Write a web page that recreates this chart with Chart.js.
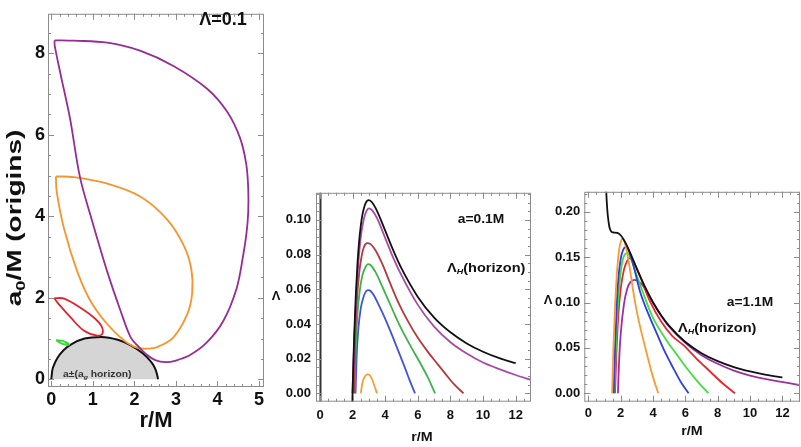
<!DOCTYPE html>
<html>
<head>
<meta charset="utf-8">
<script src="https://cdn.jsdelivr.net/npm/chart.js@4.4.1/dist/chart.umd.min.js"></script>
<style>
  body { margin: 0; background: #fff; width: 801px; height: 447px; position: relative; overflow: hidden; }
  canvas { position: absolute; }
</style>
</head>
<body>
<canvas id="c1" width="275" height="447" style="left:0;top:0"></canvas>
<canvas id="c2" width="275" height="267" style="left:265px;top:180px"></canvas>
<canvas id="c3" width="261" height="267" style="left:540px;top:180px"></canvas>
<script>
// ---- Panel 1: loops of a0/M vs r/M at Lambda = 0.1
const purpleLoopR = [0.08, 0.55, 1.35, 2.15, 2.94, 3.75, 4.23, 4.54, 4.69, 4.74, 4.74, 4.7, 4.62, 4.46, 4.14, 3.75, 3.35, 3.0, 2.75, 2.5, 2.3, 2.1, 1.91, 1.67, 1.35, 0.95, 0.69, 0.45, 0.22, 0.08, 0.08];
const purpleLoopA = [8.32, 8.31, 8.26, 8.06, 7.69, 7.13, 6.57, 5.93, 5.3, 4.7, 4.1, 3.6, 3.05, 2.23, 1.43, 0.91, 0.6, 0.46, 0.42, 0.47, 0.6, 0.8, 1.03, 1.67, 2.63, 4.0, 4.96, 6.4, 7.5, 8.2, 8.32];
const orangeLoopR = [0.11, 0.55, 1.35, 2.15, 2.79, 3.19, 3.37, 3.39, 3.27, 2.94, 2.55, 2.3, 2.15, 1.99, 1.75, 1.35, 0.95, 0.63, 0.31, 0.13, 0.11];
const orangeLoopA = [4.98, 4.96, 4.8, 4.48, 3.92, 3.28, 2.7, 2.1, 1.59, 1.03, 0.79, 0.75, 0.76, 0.8, 0.95, 1.35, 1.91, 2.63, 3.68, 4.6, 4.98];
const redLoopR = [0.07, 0.31, 0.71, 1.03, 1.21, 1.23, 1.11, 0.79, 0.47, 0.19, 0.07];
const redLoopA = [1.99, 1.98, 1.75, 1.51, 1.3, 1.12, 1.07, 1.19, 1.51, 1.83, 1.99];
const greenLoopR = [0.11, 0.27, 0.43, 0.29, 0.11];
const greenLoopA = [0.96, 0.94, 0.85, 0.86, 0.96];
const horizonR = [0, 0.02, 0.06, 0.15, 0.3, 0.5, 0.8, 1.2, 1.6, 1.9, 2.2, 2.4, 2.5, 2.55, 2.57];
const horizonA = [0, 0.2, 0.34, 0.53, 0.72, 0.87, 1.0, 1.04, 0.97, 0.84, 0.64, 0.43, 0.26, 0.1, 0];
const p1TicksX = [0, 1, 2, 3, 4, 5];
const p1TicksY = [0, 2, 4, 6, 8];

// ---- Panel 2: a = 0.1M
const p2BlackR = [1.98, 2.05, 2.1, 2.2, 2.3, 2.4, 2.5, 2.6, 2.8, 3.0, 3.2, 3.5, 4, 4.5, 5, 6, 7, 8, 9, 10, 11, 12];
const p2BlackL = [-0.006, 0.019, 0.034, 0.0575, 0.075, 0.0876, 0.0966, 0.1029, 0.1097, 0.1114, 0.110, 0.1051, 0.0938, 0.0823, 0.072, 0.0556, 0.0437, 0.0352, 0.0288, 0.024, 0.0203, 0.0174];
const p2PurpleR = [1.99, 2.05, 2.15, 2.3, 2.5, 2.7, 2.85, 3.0, 3.2, 3.5, 4, 4.5, 5, 6, 7, 8, 9, 10, 11, 12, 12.95];
const p2PurpleL = [0, 0.017, 0.041, 0.068, 0.09, 0.101, 0.105, 0.1066, 0.1055, 0.101, 0.0895, 0.078, 0.068, 0.051, 0.0385, 0.0295, 0.023, 0.0178, 0.014, 0.0106, 0.0077];
const p2RedR = [2.08, 2.15, 2.25, 2.4, 2.55, 2.7, 2.9, 3.1, 3.4, 3.8, 4.3, 4.8, 5.4, 6.0, 6.65, 7.2, 7.67, 8.2, 8.8];
const p2RedL = [0, 0.03, 0.052, 0.069, 0.079, 0.0845, 0.0866, 0.086, 0.0825, 0.075, 0.0635, 0.0525, 0.0415, 0.032, 0.0235, 0.017, 0.0115, 0.0055, 0];
const p2GreenR = [2.12, 2.2, 2.3, 2.45, 2.6, 2.8, 2.95, 3.1, 3.4, 3.8, 4.2, 4.6, 5.0, 5.6, 6.2, 6.6, 7.06];
const p2GreenL = [0, 0.027, 0.046, 0.06, 0.068, 0.073, 0.0745, 0.074, 0.07, 0.062, 0.0535, 0.045, 0.037, 0.0265, 0.0165, 0.0095, 0];
const p2BlueR = [2.18, 2.25, 2.35, 2.5, 2.65, 2.8, 2.95, 3.1, 3.3, 3.6, 4.0, 4.4, 4.8, 5.2, 5.5, 5.83];
const p2BlueL = [0, 0.022, 0.037, 0.049, 0.055, 0.0585, 0.0595, 0.059, 0.0565, 0.051, 0.043, 0.034, 0.0245, 0.015, 0.0075, 0];
const p2OrangeR = [2.5, 2.6, 2.75, 2.9, 3.05, 3.2, 3.35, 3.5];
const p2OrangeL = [0, 0.006, 0.0098, 0.011, 0.0105, 0.008, 0.004, 0];
const p2TicksX = [0, 2, 4, 6, 8, 10, 12];
const p2TicksY = [0, 0.02, 0.04, 0.06, 0.08, 0.10];

// ---- Panel 3: a = 1.1M
const p3BlackR = [1.07, 1.1, 1.15, 1.2, 1.3, 1.4, 1.5, 1.6, 1.8, 2.0, 2.2, 2.5, 2.8, 3.0, 3.5, 4.0, 4.5, 5, 6, 7, 8, 9, 10, 11, 12];
const p3BlackL = [0.239, 0.225, 0.208, 0.1965, 0.1836, 0.1787, 0.1773, 0.1772, 0.1768, 0.1742, 0.169, 0.1584, 0.1459, 0.1374, 0.1175, 0.1003, 0.086, 0.0742, 0.0565, 0.0442, 0.0354, 0.0289, 0.0241, 0.0203, 0.0174];
const p3OrangeR = [1.47, 1.55, 1.65, 1.75, 1.85, 1.95, 2.05, 2.13, 2.3, 2.5, 2.78, 3.0, 3.3, 3.61, 3.9, 4.1, 4.33];
const p3OrangeL = [0, 0.05, 0.095, 0.128, 0.15, 0.163, 0.169, 0.1705, 0.163, 0.145, 0.112, 0.09, 0.066, 0.044, 0.024, 0.012, 0];
const p3BlueR = [1.57, 1.65, 1.75, 1.85, 2.0, 2.15, 2.33, 2.5, 2.8, 3.2, 3.7, 4.23, 4.7, 5.26, 5.7, 6.2];
const p3BlueL = [0, 0.05, 0.095, 0.125, 0.148, 0.158, 0.161, 0.157, 0.14, 0.112, 0.088, 0.066, 0.047, 0.0275, 0.013, 0];
const p3GreenR = [1.6, 1.7, 1.8, 1.95, 2.1, 2.25, 2.41, 2.6, 2.9, 3.4, 4.0, 4.85, 5.5, 6.09, 6.8, 7.42];
const p3GreenL = [0, 0.05, 0.09, 0.125, 0.145, 0.153, 0.1545, 0.15, 0.135, 0.11, 0.083, 0.058, 0.042, 0.0275, 0.012, 0];
const p3RedR = [1.65, 1.75, 1.85, 2.0, 2.2, 2.4, 2.54, 2.75, 3.1, 3.82, 4.5, 5.2, 5.88, 6.7, 7.53, 8.3, 9.07];
const p3RedL = [0, 0.05, 0.085, 0.115, 0.136, 0.146, 0.149, 0.146, 0.133, 0.101, 0.079, 0.063, 0.053, 0.038, 0.024, 0.011, 0];
const p3PurpleR = [1.83, 1.9, 2.0, 2.2, 2.4, 2.6, 2.83, 3.0, 3.2, 3.5, 4, 4.5, 5, 6, 7, 8, 9, 10, 11, 12, 13.1];
const p3PurpleL = [0, 0.035, 0.065, 0.098, 0.115, 0.1225, 0.125, 0.1245, 0.122, 0.1155, 0.0995, 0.0855, 0.0735, 0.0555, 0.042, 0.0325, 0.025, 0.0195, 0.0155, 0.0125, 0.0088];
const p3TicksX = [0, 2, 4, 6, 8, 10, 12];
const p3TicksY = [0, 0.05, 0.10, 0.15, 0.20];

const FONT = '"Liberation Sans", Arial, sans-serif';
Chart.defaults.font.family = FONT;
Chart.defaults.color = '#111';

function pts(xs, ys) {
    return xs.map((x, i) => ({ x: x, y: ys[i] }));
}

function line(xs, ys, color, extra) {
    return Object.assign({
        data: pts(xs, ys),
        showLine: true,
        borderColor: color,
        borderWidth: 1.8,
        pointRadius: 0,
        fill: false,
        cubicInterpolationMode: 'monotone'
    }, extra || {});
}

// loops are closed curves, so use plain bezier smoothing
const loop = { cubicInterpolationMode: 'default', tension: 0.35 };

// text with sub/italic parts
function drawRich(ctx, parts, x, y, size, align, sx, rot) {
    ctx.save();
    ctx.translate(x, y);
    if (rot) ctx.rotate(rot);
    ctx.scale(sx || 1, 1);
    ctx.textBaseline = 'middle';
    ctx.textAlign = 'left';
    const fontOf = p => `${p.it ? 'italic ' : ''}bold ${p.sub ? Math.round(size * 0.65) : size}px ${FONT}`;
    let total = 0;
    parts.forEach(p => { ctx.font = fontOf(p); total += ctx.measureText(p.t).width; });
    let cx = align === 'center' ? -total / 2 : 0;
    parts.forEach(p => {
        ctx.font = fontOf(p);
        ctx.fillStyle = p.color || '#111';
        ctx.fillText(p.t, cx, p.sub ? size * 0.3 : 0);
        cx += ctx.measureText(p.t).width;
    });
    ctx.restore();
}

// Mathematica-like frame with inward ticks on all four sides
const framePlugin = {
    id: 'frame',
    afterDatasetsDraw(chart, args, opts) {
        const { ctx, chartArea: a, scales: { x, y } } = chart;
        ctx.save();
        if (opts.zeroAxis) {
            const px = Math.round(x.getPixelForValue(0)) + 0.5;
            ctx.strokeStyle = '#333';
            ctx.lineWidth = 2;
            ctx.beginPath(); ctx.moveTo(px, a.top); ctx.lineTo(px, a.bottom); ctx.stroke();
        }
        ctx.strokeStyle = '#8c8c8c';
        ctx.lineWidth = 1;
        ctx.strokeRect(a.left + 0.5, a.top + 0.5, a.right - a.left - 1, a.bottom - a.top - 1);
        const marks = (scale, step, len) => {
            for (let v = Math.ceil(scale.min / step - 1e-9) * step; v <= scale.max + 1e-9; v += step) {
                const p = Math.round(scale.getPixelForValue(v)) + 0.5;
                ctx.beginPath();
                if (scale.axis === 'x') {
                    ctx.moveTo(p, a.bottom); ctx.lineTo(p, a.bottom - len);
                    ctx.moveTo(p, a.top); ctx.lineTo(p, a.top + len);
                } else {
                    ctx.moveTo(a.left, p); ctx.lineTo(a.left + len, p);
                    ctx.moveTo(a.right, p); ctx.lineTo(a.right - len, p);
                }
                ctx.stroke();
            }
        };
        marks(x, opts.xMinor, 3);
        marks(x, opts.xMajor, 6);
        marks(y, opts.yMinor, 3);
        marks(y, opts.yMajor, 6);
        ctx.restore();
    },
    afterDraw(chart, args, opts) {
        const ctx = chart.ctx;
        (opts.texts || []).forEach(t => drawRich(ctx, t.parts, t.x, t.y, t.size, t.align, t.sx, t.rot));
    }
};

function makeChart(id, datasets, o) {
    return new Chart(document.getElementById(id), {
        type: 'scatter',
        data: { datasets: datasets },
        options: {
            responsive: false,
            devicePixelRatio: 1,
            animation: false,
            layout: { padding: o.padding },
            plugins: {
                legend: { display: false },
                tooltip: { enabled: false },
                frame: o.frame
            },
            scales: {
                x: {
                    type: 'linear', min: o.xMin, max: o.xMax,
                    grid: { display: false, drawTicks: false },
                    border: { display: false },
                    afterBuildTicks: s => { s.ticks = o.xTicks.map(v => ({ value: v })); },
                    afterFit: s => { s.height = o.xHeight; },
                    ticks: {
                        font: { size: o.tickSize, weight: 'bold' }, color: '#111',
                        padding: o.xPad, maxRotation: 0,
                        callback: v => o.xFmt(v)
                    }
                },
                y: {
                    type: 'linear', min: o.yMin, max: o.yMax,
                    grid: { display: false, drawTicks: false },
                    border: { display: false },
                    afterBuildTicks: s => { s.ticks = o.yTicks.map(v => ({ value: v })); },
                    afterFit: s => { s.width = o.yWidth; },
                    ticks: {
                        font: { size: o.tickSize, weight: 'bold' }, color: '#111',
                        padding: o.yPad,
                        callback: v => o.yFmt(v)
                    }
                }
            }
        },
        plugins: [framePlugin]
    });
}

// Panel 1
makeChart('c1', [
    line(purpleLoopR, purpleLoopA, '#962c96', loop),
    line(orangeLoopR, orangeLoopA, '#f7952c', loop),
    line(redLoopR, redLoopA, '#e3242e', loop),
    line(greenLoopR, greenLoopA, '#36d836', loop),
    line(horizonR, horizonA, '#111', { fill: 'origin', backgroundColor: '#d5d5d5', borderWidth: 2 })
], {
    padding: { left: 0, top: 7, right: 11, bottom: 0 },
    xMin: -0.08, xMax: 5.12, yMin: -0.19, yMax: 8.97,
    xTicks: p1TicksX, yTicks: p1TicksY,
    xHeight: 60, yWidth: 48, xPad: 2, yPad: 3, tickSize: 18,
    xFmt: v => String(v), yFmt: v => String(v),
    frame: {
        xMajor: 1, xMinor: 0.2, yMajor: 2, yMinor: 0.5,
        texts: [
            { parts: [{ t: 'Λ=0.1' }], x: 223, y: 20, size: 18, align: 'center' },
            { parts: [{ t: 'r/M' }], x: 156, y: 421, size: 22, align: 'center' },
            { parts: [{ t: 'a' }, { t: '0', sub: true }, { t: '/M (origins)' }], x: 15, y: 218, size: 20, align: 'center', sx: 1.4, rot: -Math.PI / 2 },
            { parts: [{ t: 'a±(a', color: '#333' }, { t: 'g', sub: true, it: true, color: '#333' }, { t: ' horizon)', color: '#333' }], x: 63, y: 375, size: 9, align: 'left', sx: 1.15 }
        ]
    }
});

// Panel 2
makeChart('c2', [
    line(p2BlackR, p2BlackL, '#111'),
    line(p2PurpleR, p2PurpleL, '#a84aa8'),
    line(p2RedR, p2RedL, '#b3393c'),
    line(p2GreenR, p2GreenL, '#3cb44a'),
    line(p2BlueR, p2BlueL, '#3f52e0'),
    line(p2OrangeR, p2OrangeL, '#f5a035')
], {
    padding: { left: 0, top: 12.7, right: 9, bottom: 0 },
    xMin: -0.245, xMax: 12.94, yMin: -0.0048, yMax: 0.1156,
    xTicks: p2TicksX, yTicks: p2TicksY,
    xHeight: 45.3, yWidth: 51, xPad: 6, yPad: 5, tickSize: 13,
    xFmt: v => String(v), yFmt: v => v.toFixed(2),
    frame: {
        xMajor: 2, xMinor: 0.5, yMajor: 0.02, yMinor: 0.005, zeroAxis: true,
        texts: [
            { parts: [{ t: 'a=0.1M' }], x: 216, y: 40, size: 12, align: 'center', sx: 1.15 },
            { parts: [{ t: 'Λ' }, { t: 'H', sub: true, it: true }, { t: '(horizon)' }], x: 182, y: 88, size: 13, align: 'left', sx: 1.12 },
            { parts: [{ t: 'r/M' }], x: 157, y: 257, size: 13, align: 'center', sx: 1.1 },
            { parts: [{ t: 'Λ' }], x: 11, y: 116, size: 13, align: 'center' }
        ]
    }
});

// Panel 3
makeChart('c3', [
    line(p3BlackR, p3BlackL, '#111'),
    line(p3OrangeR, p3OrangeL, '#f89b30'),
    line(p3BlueR, p3BlueL, '#2f3fe0'),
    line(p3GreenR, p3GreenL, '#3ee03e'),
    line(p3RedR, p3RedL, '#e8262b'),
    line(p3PurpleR, p3PurpleL, '#9b30a3')
], {
    padding: { left: 0, top: 11.7, right: 1, bottom: 0 },
    xMin: -0.25, xMax: 13.09, yMin: -0.0093, yMax: 0.2221,
    xTicks: p3TicksX, yTicks: p3TicksY,
    xHeight: 45.3, yWidth: 44.3, xPad: 4, yPad: 4, tickSize: 13,
    xFmt: v => String(v), yFmt: v => v.toFixed(2),
    frame: {
        xMajor: 2, xMinor: 0.5, yMajor: 0.05, yMinor: 0.01,
        texts: [
            { parts: [{ t: 'a=1.1M' }], x: 210, y: 123, size: 12, align: 'center', sx: 1.15 },
            { parts: [{ t: 'Λ' }, { t: 'H', sub: true, it: true }, { t: '(horizon)' }], x: 138, y: 148, size: 13, align: 'left', sx: 1.12 },
            { parts: [{ t: 'r/M' }], x: 152, y: 251, size: 13, align: 'center', sx: 1.1 },
            { parts: [{ t: 'Λ' }], x: 8, y: 120, size: 13, align: 'center' }
        ]
    }
});
</script>
</body>
</html>
